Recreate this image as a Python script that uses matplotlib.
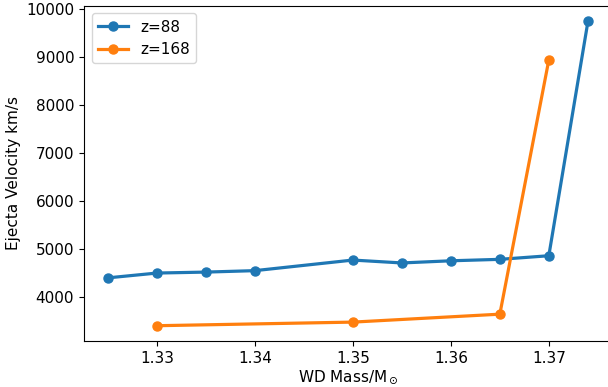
#!/usr/bin/env python3
import matplotlib
matplotlib.use("Agg")
import matplotlib.pyplot as plt

# WD mass vs ejecta velocity for two metallicities
mass_z88 = [1.325, 1.33, 1.335, 1.34, 1.35, 1.355, 1.36, 1.365, 1.37, 1.374]
vel_z88 = [4400, 4500, 4520, 4550, 4770, 4710, 4755, 4785, 4860, 9740]

mass_z168 = [1.33, 1.35, 1.365, 1.37]
vel_z168 = [3405, 3480, 3645, 8930]

plt.rcParams["font.size"] = 11

fig = plt.figure(figsize=(6.08, 3.87), dpi=100)
ax = fig.add_subplot(111)

ax.plot(mass_z88, vel_z88, "-o", lw=2.3, ms=6.5, color="#1f77b4", label="z=88")
ax.plot(mass_z168, vel_z168, "-o", lw=2.3, ms=6.5, color="#ff7f0e", label="z=168")

ax.set_xlabel(r"WD Mass/M$_\odot$", labelpad=2)
ax.set_ylabel("Ejecta Velocity km/s")
ax.legend(loc="upper left")

fig.subplots_adjust(left=0.138, right=1.0066, top=0.985, bottom=0.119)
fig.savefig("out.png", dpi=100)
